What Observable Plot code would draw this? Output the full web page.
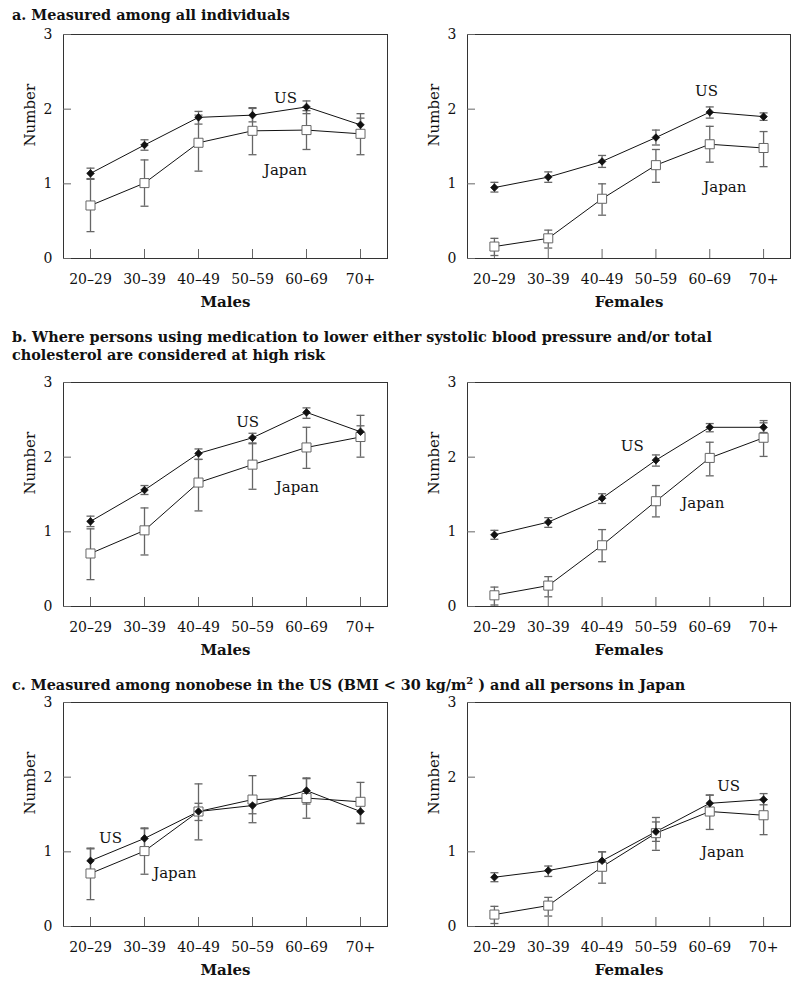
<!DOCTYPE html>
<html>
<head>
<meta charset="utf-8">
<script src="https://cdn.jsdelivr.net/npm/d3@7"></script>
<script src="https://cdn.jsdelivr.net/npm/@observablehq/plot@0.6"></script>
<style>
  html, body { margin: 0; padding: 0; background: white; }
  #root { position: relative; width: 800px; height: 986px; font-family: "DejaVu Serif", serif; color: #111; }
  .title { position: absolute; left: 12px; font-weight: bold; font-size: 14.4px; line-height: 18px; white-space: nowrap; }
  .title sup { font-size: 10px; line-height: 0; vertical-align: 6px; }
  .panel { position: absolute; }
</style>
</head>
<body>
<div id="root">
  <div class="title" style="top:6px">a. Measured among all individuals</div>
  <div class="title" style="top:328px">b. Where persons using medication to lower either systolic blood pressure and/or total<br>cholesterol are considered at high risk</div>
  <div class="title" style="top:676px">c. Measured among nonobese in the US (BMI &lt; 30 kg/m<sup>2</sup> ) and all persons in Japan</div>
</div>
<script>
// ---- data ----
const ages = ["20–29", "30–39", "40–49", "50–59", "60–69", "70+"];
const yTicks = [0, 1, 2, 3];
const seriesNames = ["US", "Japan"];

// a. Measured among all individuals
const aMaleUS     = [1.14, 1.52, 1.89, 1.92, 2.03, 1.79];
const aMaleUSLo   = [1.07, 1.45, 1.80, 1.83, 1.94, 1.70];
const aMaleUSHi   = [1.21, 1.59, 1.97, 2.01, 2.11, 1.88];
const aMaleJP     = [0.71, 1.01, 1.55, 1.71, 1.72, 1.67];
const aMaleJPLo   = [0.36, 0.70, 1.17, 1.39, 1.46, 1.39];
const aMaleJPHi   = [1.06, 1.32, 1.92, 2.02, 1.98, 1.94];
const aFemaleUS   = [0.95, 1.09, 1.30, 1.62, 1.96, 1.90];
const aFemaleUSLo = [0.89, 1.02, 1.22, 1.52, 1.88, 1.85];
const aFemaleUSHi = [1.02, 1.16, 1.38, 1.72, 2.03, 1.95];
const aFemaleJP   = [0.16, 0.27, 0.80, 1.25, 1.53, 1.48];
const aFemaleJPLo = [0.04, 0.14, 0.58, 1.02, 1.29, 1.23];
const aFemaleJPHi = [0.27, 0.38, 1.00, 1.46, 1.77, 1.70];

// b. Medicated persons considered at high risk
const bMaleUS     = [1.14, 1.56, 2.05, 2.26, 2.60, 2.34];
const bMaleUSLo   = [1.07, 1.50, 1.97, 2.18, 2.52, 2.26];
const bMaleUSHi   = [1.21, 1.62, 2.11, 2.32, 2.66, 2.42];
const bMaleJP     = [0.71, 1.02, 1.66, 1.90, 2.13, 2.27];
const bMaleJPLo   = [0.36, 0.69, 1.28, 1.57, 1.85, 2.00];
const bMaleJPHi   = [1.04, 1.32, 1.97, 2.19, 2.40, 2.56];
const bFemaleUS   = [0.96, 1.13, 1.45, 1.96, 2.40, 2.40];
const bFemaleUSLo = [0.90, 1.06, 1.38, 1.88, 2.34, 2.33];
const bFemaleUSHi = [1.02, 1.19, 1.51, 2.03, 2.45, 2.46];
const bFemaleJP   = [0.15, 0.28, 0.82, 1.41, 1.99, 2.26];
const bFemaleJPLo = [0.02, 0.13, 0.60, 1.20, 1.75, 2.01];
const bFemaleJPHi = [0.26, 0.40, 1.03, 1.62, 2.20, 2.49];

// c. Nonobese in the US and all persons in Japan
const cMaleUS     = [0.88, 1.18, 1.54, 1.62, 1.82, 1.54];
const cMaleUSLo   = [0.73, 1.06, 1.42, 1.51, 1.64, 1.38];
const cMaleUSHi   = [1.04, 1.31, 1.65, 1.74, 1.99, 1.65];
const cMaleJP     = [0.71, 1.01, 1.54, 1.70, 1.72, 1.67];
const cMaleJPLo   = [0.36, 0.70, 1.16, 1.39, 1.45, 1.38];
const cMaleJPHi   = [1.05, 1.32, 1.91, 2.02, 1.98, 1.93];
const cFemaleUS   = [0.66, 0.75, 0.88, 1.27, 1.65, 1.70];
const cFemaleUSLo = [0.60, 0.67, 0.78, 1.14, 1.52, 1.63];
const cFemaleUSHi = [0.72, 0.81, 1.00, 1.40, 1.76, 1.78];
const cFemaleJP   = [0.16, 0.28, 0.80, 1.25, 1.54, 1.49];
const cFemaleJPLo = [0.04, 0.14, 0.58, 1.02, 1.30, 1.23];
const cFemaleJPHi = [0.27, 0.39, 1.00, 1.46, 1.76, 1.70];

// series label anchors (age index, value) for "US" and "Japan"
const aMaleLabelX   = [3.61, 3.61], aMaleLabelY   = [2.15, 1.18];
const aFemaleLabelX = [3.94, 4.28], aFemaleLabelY = [2.24, 0.96];
const bMaleLabelX   = [2.91, 3.83], bMaleLabelY   = [2.47, 1.60];
const bFemaleLabelX = [2.56, 3.87], bFemaleLabelY = [2.15, 1.39];
const cMaleLabelX   = [0.37, 1.56], cMaleLabelY   = [1.18, 0.71];
const cFemaleLabelX = [4.35, 4.24], cFemaleLabelY = [1.88, 1.00];

// ---- drawing ----
const cap = {draw(ctx, size) { const r = Math.sqrt(size / Math.PI); ctx.moveTo(-r, 0); ctx.lineTo(r, 0); }};
const rows = (m, lo, hi) => ages.map((a, i) => ({i, v: m[i], lo: lo[i], hi: hi[i]}));

function panel({us, jp, labX, labY, sex, left, top, side}) {
  const labels = seriesNames.map((t, k) => ({t, x: labX[k], y: labY[k]}));
  const errMarks = (d) => [
    Plot.ruleX(d, {x: "i", y1: "lo", y2: "hi", stroke: "#666", strokeWidth: 1.3}),
    Plot.dot(d, {x: "i", y: "lo", symbol: cap, r: 4, stroke: "#666", strokeWidth: 1.3}),
    Plot.dot(d, {x: "i", y: "hi", symbol: cap, r: 4, stroke: "#666", strokeWidth: 1.3})
  ];
  const p = Plot.plot({
    width: 400, height: 304,
    marginTop: 20, marginBottom: 60,
    marginLeft: side === "L" ? 63 : 67, marginRight: side === "L" ? 13 : 10,
    style: {background: "transparent", overflow: "visible", fontFamily: "DejaVu Serif", color: "#111"},
    x: {domain: [-0.5, 5.5]},
    y: {domain: [0, 3]},
    marks: [
      Plot.frame({stroke: "#333"}),
      Plot.axisY({ticks: yTicks, tickSize: -8, tickPadding: 19, stroke: "#666", fontSize: 14, tickFormat: d => d, label: null}),
      Plot.axisX({ticks: d3.range(ages.length), tickSize: -9, tickPadding: 25, stroke: "#666", fontSize: 14, tickFormat: i => ages[i], label: null}),
      Plot.text([sex], {frameAnchor: "bottom", dy: 48, fontWeight: "bold", fontSize: 15}),
      Plot.text(["Number"], {frameAnchor: "left", rotate: -90, dx: -33, fontSize: 15}),
      ...errMarks(jp),
      ...errMarks(us),
      Plot.line(jp, {x: "i", y: "v", stroke: "#111", strokeWidth: 1}),
      Plot.line(us, {x: "i", y: "v", stroke: "#111", strokeWidth: 1}),
      Plot.dot(jp, {x: "i", y: "v", symbol: "square", r: 5.1, fill: "white", stroke: "#666", strokeWidth: 1}),
      Plot.dot(us, {x: "i", y: "v", symbol: "diamond2", r: 3.4, fill: "#111", stroke: "#111", strokeWidth: 0.8}),
      Plot.text(labels, {x: "x", y: "y", text: "t", fontSize: 15})
    ]
  });
  const div = document.createElement("div");
  div.className = "panel";
  div.style.left = left + "px";
  div.style.top = top + "px";
  div.appendChild(p);
  document.getElementById("root").appendChild(div);
}

panel({us: rows(aMaleUS, aMaleUSLo, aMaleUSHi), jp: rows(aMaleJP, aMaleJPLo, aMaleJPHi), labX: aMaleLabelX, labY: aMaleLabelY, sex: "Males", left: 0, top: 14, side: "L"});
panel({us: rows(aFemaleUS, aFemaleUSLo, aFemaleUSHi), jp: rows(aFemaleJP, aFemaleJPLo, aFemaleJPHi), labX: aFemaleLabelX, labY: aFemaleLabelY, sex: "Females", left: 400, top: 14, side: "R"});
panel({us: rows(bMaleUS, bMaleUSLo, bMaleUSHi), jp: rows(bMaleJP, bMaleJPLo, bMaleJPHi), labX: bMaleLabelX, labY: bMaleLabelY, sex: "Males", left: 0, top: 362, side: "L"});
panel({us: rows(bFemaleUS, bFemaleUSLo, bFemaleUSHi), jp: rows(bFemaleJP, bFemaleJPLo, bFemaleJPHi), labX: bFemaleLabelX, labY: bFemaleLabelY, sex: "Females", left: 400, top: 362, side: "R"});
panel({us: rows(cMaleUS, cMaleUSLo, cMaleUSHi), jp: rows(cMaleJP, cMaleJPLo, cMaleJPHi), labX: cMaleLabelX, labY: cMaleLabelY, sex: "Males", left: 0, top: 682, side: "L"});
panel({us: rows(cFemaleUS, cFemaleUSLo, cFemaleUSHi), jp: rows(cFemaleJP, cFemaleJPLo, cFemaleJPHi), labX: cFemaleLabelX, labY: cFemaleLabelY, sex: "Females", left: 400, top: 682, side: "R"});
</script>
</body>
</html>
